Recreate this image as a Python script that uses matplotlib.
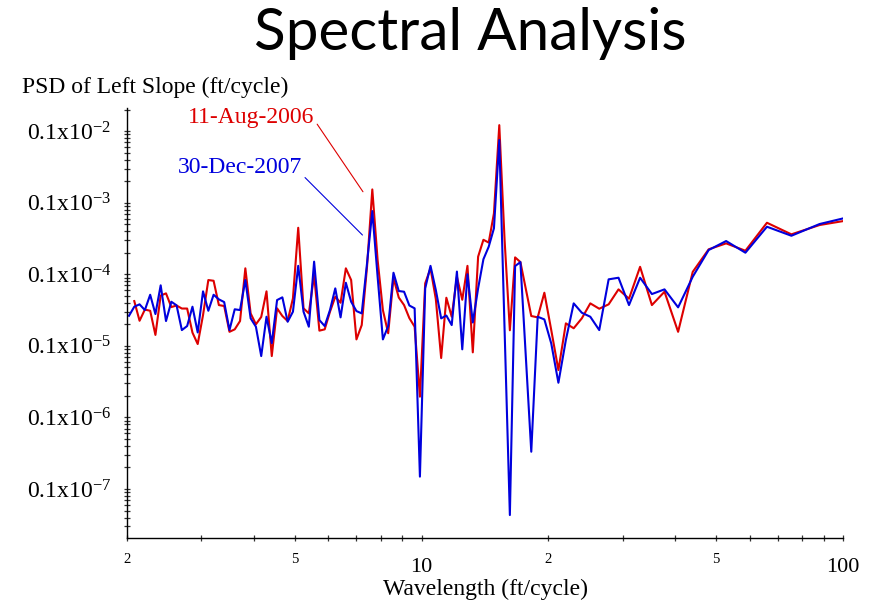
import numpy as np
import matplotlib
matplotlib.use("Agg")
import matplotlib.pyplot as plt
from matplotlib.ticker import FixedLocator, FuncFormatter, LogLocator, NullFormatter

plt.rcParams['font.family'] = ['Liberation Serif', 'DejaVu Serif']

# wavelength grid (ft/cycle): log-binned at short wavelengths, then 528/k
wavelength = [
    2.022, 2.081, 2.142, 2.205, 2.270, 2.336, 2.404, 2.475, 2.548, 2.622,
    2.699, 2.778, 2.860, 2.943, 3.030, 3.119, 3.210, 3.304, 3.401, 3.501,
    3.603, 3.709, 3.818, 3.930, 4.045, 4.164, 4.286, 4.411, 4.541, 4.674,
    4.811, 4.952, 5.097, 5.247, 5.401, 5.559, 5.722, 5.890, 6.063, 6.241,
    6.424, 6.612, 6.806, 7.006, 7.211, 7.423, 7.640, 7.865, 8.095, 8.333,
    8.577, 8.829, 9.088, 9.354, 9.628, 9.910, 10.20, 10.50, 10.81, 11.13,
    11.45, 11.79, 12.13, 12.49, 12.85, 13.23, 13.62, 14.02, 14.43, 14.85,
    15.29, 15.74, 16.20, 16.67, 17.16,
    18.21, 18.86, 19.56, 20.31, 21.12, 22.00, 22.96, 24.00, 25.14, 26.40,
    27.79, 29.33, 31.06, 33.00, 35.20, 37.71, 40.62, 44.00, 48.00, 52.80,
    58.67, 66.00, 75.43, 88.00, 105.6,
]

psd_aug_2006 = [
    np.nan, 4.22e-6, 2.24e-6, 3.21e-6, 3.09e-6, 1.42e-6, 5.04e-6, 5.41e-6, 3.48e-6, 3.66e-6,
    3.32e-6, 3.32e-6, 1.53e-6, 1.06e-6, 2.69e-6, 8.30e-6, 8.11e-6, 3.71e-6, 3.60e-6, 1.57e-6,
    1.70e-6, 2.22e-6, 1.21e-5, 2.84e-6, 2.00e-6, 2.53e-6, 5.77e-6, 7.20e-7, 3.34e-6, 2.61e-6,
    2.22e-6, 4.61e-6, 4.46e-5, 3.34e-6, 2.84e-6, 9.75e-6, 1.63e-6, 1.70e-6, 3.00e-6, 4.85e-6,
    4.00e-6, 1.21e-5, 8.30e-6, 1.23e-6, 1.95e-6, 1.27e-5, 1.53e-4, 1.58e-5, 3.16e-6, 1.50e-6,
    8.85e-6, 4.73e-6, 3.71e-6, 2.44e-6, 1.85e-6, 1.95e-7, 7.46e-6, 1.21e-5, 4.50e-6, 6.76e-7,
    4.70e-6, 2.55e-6, 9.23e-6, 4.40e-6, 1.31e-5, 8.11e-7, 1.76e-5, 3.03e-5, 2.77e-5, 7.09e-5,
    1.21e-3, 3.00e-5, 1.65e-6, 1.72e-5, 1.48e-5,
    2.61e-6, 2.50e-6, 5.52e-6, 1.66e-6, 4.59e-7, 2.06e-6, 1.76e-6, 2.42e-6, 3.92e-6, 3.30e-6,
    3.80e-6, 6.15e-6, 4.55e-6, 1.27e-5, 3.71e-6, 5.70e-6, 1.57e-6, 1.08e-5, 2.23e-5, 2.70e-5,
    2.13e-5, 5.24e-5, 3.61e-5, 4.87e-5, 5.83e-5,
]

psd_dec_2007 = [
    2.63e-6, 3.52e-6, 3.80e-6, 3.16e-6, 5.17e-6, 2.78e-6, 7.00e-6, 2.22e-6, 4.13e-6, 3.68e-6,
    1.66e-6, 1.89e-6, 3.52e-6, 1.54e-6, 5.77e-6, 3.09e-6, 5.17e-6, 4.46e-6, 4.09e-6, 1.66e-6,
    3.24e-6, 3.16e-6, 8.30e-6, 2.42e-6, 1.85e-6, 7.20e-7, 2.55e-6, 1.09e-6, 4.36e-6, 4.76e-6,
    2.17e-6, 3.00e-6, 1.31e-5, 3.00e-6, 1.85e-6, 1.50e-5, 2.29e-6, 1.89e-6, 3.16e-6, 6.35e-6,
    2.50e-6, 7.61e-6, 4.13e-6, 3.06e-6, 2.84e-6, 1.42e-5, 7.63e-5, 9.23e-6, 1.23e-6, 1.89e-6,
    1.05e-5, 5.83e-6, 5.70e-6, 3.66e-6, 3.34e-6, 1.49e-8, 6.35e-6, 1.31e-5, 6.02e-6, 2.42e-6,
    2.65e-6, 1.95e-6, 1.09e-5, 8.94e-7, 1.00e-5, 2.12e-6, 6.35e-6, 1.62e-5, 2.42e-5, 4.38e-5,
    7.49e-4, 1.66e-6, 4.33e-9, 1.30e-5, 1.48e-5,
    3.32e-8, 2.55e-6, 2.34e-6, 1.08e-6, 3.05e-7, 1.21e-6, 3.92e-6, 2.90e-6, 2.55e-6, 1.66e-6,
    8.49e-6, 8.94e-6, 3.71e-6, 8.94e-6, 5.29e-6, 6.15e-6, 3.45e-6, 9.23e-6, 2.18e-5, 2.91e-5,
    2.00e-5, 4.61e-5, 3.45e-5, 5.03e-5, 6.50e-5,
]

y_ticks = [1e-3, 1e-4, 1e-5, 1e-6, 1e-7, 1e-8]
y_tick_labels = [r'$\mathregular{0.1x10^{-%d}}$' % n for n in range(2, 8)]
x_major = [10, 100]
x_minor = [2, 3, 4, 5, 6, 7, 8, 9, 20, 30, 40, 50, 60, 70, 80, 90]

red = '#dd0000'
blue = '#0000dd'


def minor_label(v, pos):
    lead = int(round(v / 10 ** np.floor(np.log10(v))))
    return str(lead) if lead in (2, 5) else ''


fig = plt.figure(figsize=(8.83, 6.03), dpi=100)
ax = fig.add_axes([0.14383, 0.10779, 0.81087, 0.71311])

ax.plot(wavelength, psd_aug_2006, color=red, lw=1.5)
ax.plot(wavelength, psd_dec_2007, color=blue, lw=1.5)

ax.set_xscale('log')
ax.set_yscale('log')
ax.set_xlim(2.0, 100)
ax.set_ylim(2.07e-9, 2.1e-3)

for side in ['top', 'right']:
    ax.spines[side].set_visible(False)
for side in ['left', 'bottom']:
    ax.spines[side].set_linewidth(1.0)

ax.yaxis.set_major_locator(FixedLocator(y_ticks))
ax.set_yticklabels(y_tick_labels)
ax.yaxis.set_minor_locator(LogLocator(base=10, subs=np.arange(2, 10)))
ax.yaxis.set_minor_formatter(NullFormatter())

ax.xaxis.set_major_locator(FixedLocator(x_major))
ax.xaxis.set_major_formatter(FuncFormatter(lambda v, p: '%d' % v))
ax.xaxis.set_minor_locator(FixedLocator(x_minor))
ax.xaxis.set_minor_formatter(FuncFormatter(minor_label))

ax.tick_params(which='both', direction='inout', length=4.8, width=0.9, color='#333333')
ax.tick_params(axis='y', which='major', labelsize=17, pad=9)
ax.tick_params(axis='x', which='major', labelsize=16, pad=12)
ax.tick_params(axis='x', which='minor', labelsize=10.5, pad=8.5)

# titles and axis captions
fig.text(470 / 883, 1 - 50 / 603, 'Spectral Analysis', ha='center', va='baseline',
         fontsize=42, family='Lato')
fig.text(22 / 883, 1 - 92.5 / 603, 'PSD of Left Slope (ft/cycle)', ha='left', va='baseline',
         fontsize=17)
fig.text(485 / 883, 1 - 595 / 603, 'Wavelength (ft/cycle)', ha='center', va='baseline',
         fontsize=17)

# date labels with leader lines to the main peak
ax.annotate('11-Aug-2006', xy=(7.26, 1.42e-4), xycoords='data',
            xytext=(188 / 883, 1 - 123 / 603), textcoords='figure fraction',
            ha='left', va='baseline', fontsize=17, color=red,
            arrowprops=dict(arrowstyle='-', color=red, lw=0.8, shrinkA=0, shrinkB=0,
                            relpos=(1.02, 0.2)))
ax.annotate('30-Dec-2007', xy=(7.24, 3.53e-5), xycoords='data',
            xytext=(178 / 883, 1 - 172.7 / 603), textcoords='figure fraction',
            ha='left', va='baseline', fontsize=17, color=blue,
            arrowprops=dict(arrowstyle='-', color=blue, lw=0.8, shrinkA=0, shrinkB=0,
                            relpos=(1.015, 0.05)))

fig.savefig('out.png', dpi=100)
